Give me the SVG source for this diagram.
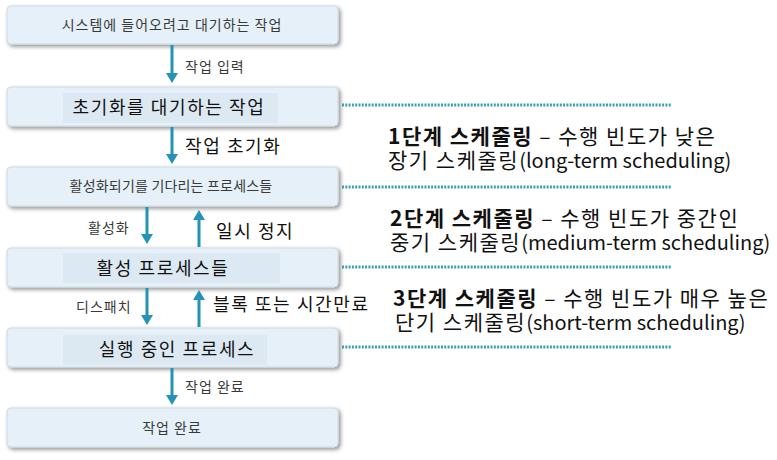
<svg xmlns="http://www.w3.org/2000/svg" width="777" height="460" viewBox="0 0 777 460">
<defs>
<filter id="sh" x="-5%" y="-20%" width="110%" height="150%">
<feGaussianBlur in="SourceAlpha" stdDeviation="2"/>
<feOffset dx="2" dy="2" result="b"/>
<feComponentTransfer><feFuncA type="linear" slope="0.45"/></feComponentTransfer>
<feMerge><feMergeNode/><feMergeNode in="SourceGraphic"/></feMerge>
</filter>
<marker id="ah" viewBox="0 0 10 12" refX="0" refY="6" markerWidth="10" markerHeight="12" markerUnits="userSpaceOnUse" orient="auto">
<path d="M0,0 L10,6 L0,12 Z" fill="#2593b3"/>
</marker>
</defs>
<style>
.box{fill:#e5f0f8;stroke:#cfdbe3;stroke-width:1;filter:url(#sh)}
.hl{fill:#dce9f2}
.t{font-family:"Noto Sans CJK KR","Noto Sans",sans-serif;text-anchor:middle}
.s{font-size:14px;fill:#3a3a3a;letter-spacing:1px}
.l{font-size:18px;fill:#111;letter-spacing:1.6px}
.lab{font-family:"Noto Sans CJK KR","Noto Sans",sans-serif}
.ls{font-size:14px;fill:#3a3a3a;letter-spacing:1px}
.ll{font-size:18px;fill:#111;letter-spacing:1.6px}
.arr{stroke:#2593b3;stroke-width:3;fill:none}
.dot{stroke:#3a9fb3;stroke-width:3;stroke-dasharray:2 1.3;fill:none}
.r{font-family:"Noto Sans CJK KR","Noto Sans",sans-serif;font-size:21px;fill:#111;letter-spacing:1.5px}
.b{font-weight:bold}
.en{font-size:20px;letter-spacing:0}
</style>
<g id="n1"><rect class="box" x="7" y="6" width="331" height="38" rx="4"/><text class="t s" x="172" y="30">시스템에 들어오려고 대기하는 작업</text></g>
<g id="n2"><rect class="box" x="7" y="87" width="331" height="39" rx="4"/><rect class="hl" x="63" y="93" width="215" height="30"/><text class="t l" x="169" y="114">초기화를 대기하는 작업</text></g>
<g id="n3"><rect class="box" x="7" y="167" width="331" height="39" rx="4"/><text class="t s" x="171" y="191" style="letter-spacing:0.2px">활성화되기를 기다리는 프로세스들</text></g>
<g id="n4"><rect class="box" x="7" y="248" width="331" height="39" rx="4"/><rect class="hl" x="63" y="253" width="217" height="30"/><text class="t l" x="163" y="275">활성 프로세스들</text></g>
<g id="n5"><rect class="box" x="7" y="328" width="331" height="39" rx="4"/><rect class="hl" x="63" y="335" width="204" height="30"/><text class="t l" x="177" y="356">실행 중인 프로세스</text></g>
<g id="n6"><rect class="box" x="7" y="408" width="331" height="39" rx="4"/><text class="t s" x="172" y="433">작업 완료</text></g>
<g id="connectors">
<line class="arr" x1="172" y1="45" x2="172" y2="73" marker-end="url(#ah)"/>
<line class="arr" x1="172" y1="127" x2="172" y2="154" marker-end="url(#ah)"/>
<line class="arr" x1="147" y1="207" x2="147" y2="234" marker-end="url(#ah)"/>
<line class="arr" x1="199" y1="247" x2="199" y2="220" marker-end="url(#ah)"/>
<line class="arr" x1="147" y1="288" x2="147" y2="315" marker-end="url(#ah)"/>
<line class="arr" x1="199" y1="327" x2="199" y2="300" marker-end="url(#ah)"/>
<line class="arr" x1="172" y1="368" x2="172" y2="395" marker-end="url(#ah)"/>
<line class="dot" x1="342" y1="105" x2="672" y2="105"/>
<line class="dot" x1="342" y1="187" x2="672" y2="187"/>
<line class="dot" x1="342" y1="267" x2="672" y2="267"/>
<line class="dot" x1="342" y1="347" x2="672" y2="347"/>
</g>
<g id="labels">
<text class="lab ls" x="185" y="72">작업 입력</text>
<text class="lab ll" x="185" y="153">작업 초기화</text>
<text class="lab ls" x="88" y="233">활성화</text>
<text class="lab ll" x="216" y="238">일시 정지</text>
<text class="lab ls" x="76" y="312">디스패치</text>
<text class="lab ll" x="213" y="311">블록 또는 시간만료</text>
<text class="lab ls" x="185" y="392">작업 완료</text>
</g>
<g id="notes">
<text class="r" x="388" y="144"><tspan class="b">1단계 스케줄링</tspan> – 수행 빈도가 낮은</text>
<text class="r" x="388" y="168">장기 스케줄링<tspan class="en">(long-term scheduling)</tspan></text>
<text class="r" x="390" y="226"><tspan class="b">2단계 스케줄링</tspan> – 수행 빈도가 중간인</text>
<text class="r" x="390" y="250">중기 스케줄링<tspan class="en">(medium-term scheduling)</tspan></text>
<text class="r" x="393" y="306"><tspan class="b">3단계 스케줄링</tspan> – 수행 빈도가 매우 높은</text>
<text class="r" x="395" y="330">단기 스케줄링<tspan class="en">(short-term scheduling)</tspan></text>
</g>
</svg>
